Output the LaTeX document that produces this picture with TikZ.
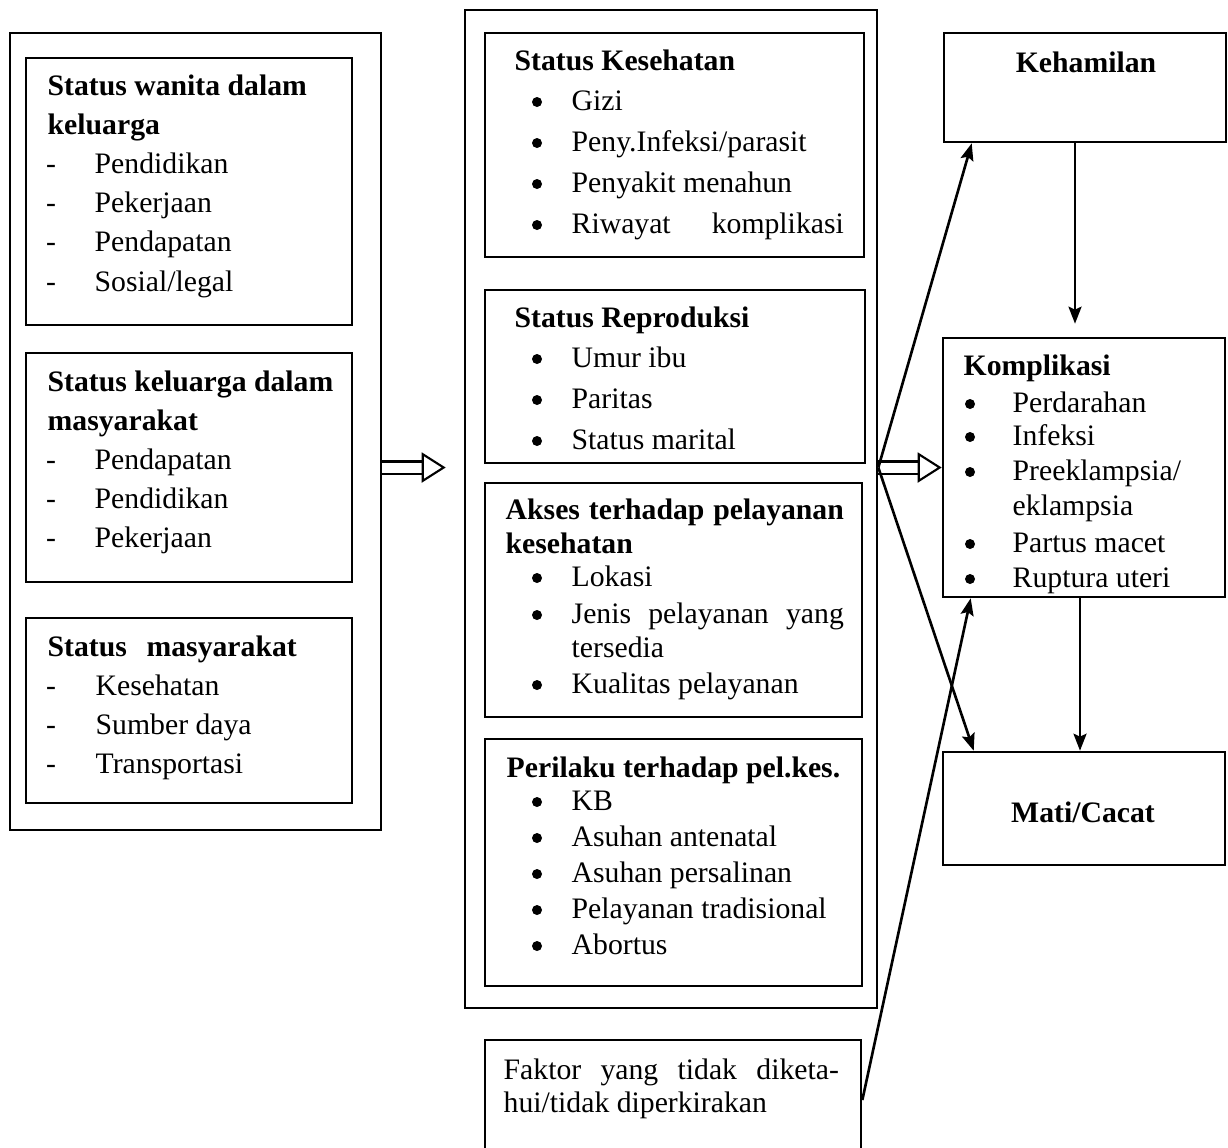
\documentclass[tikz,border=0pt]{standalone}
\usepackage{fontspec}
\setmainfont{Liberation Serif}
\usetikzlibrary{arrows.meta,fit}

\newcommand\ukuran{\fontsize{8.45}{11}\selectfont}
\tikzset{
  kotak/.style={draw, line width=0.75pt, inner sep=0pt},
  judul/.style={anchor=base west, inner sep=0pt, font=\ukuran\bfseries},
  butir/.style={anchor=base west, inner sep=0pt, font=\ukuran},
  titik/.style={anchor=base, inner sep=0pt, font=\ukuran},
  bulat/.style={circle, fill, inner sep=0pt, minimum size=0.1cm, yshift=0.08cm},
  panah/.style={line width=0.75pt, -{Stealth[length=0.17cm,width=0.13cm,inset=0.03cm]}},
  ganda/.style={double, double distance=0.1cm, line width=0.6pt, -{Triangle[open,length=0.24cm,width=0.3cm]}},
}

\begin{document}
\begin{tikzpicture}[x=0.01cm, y=-0.01cm]
\useasboundingbox (0,0) rectangle (1228,1147);

% kolom kiri
\node[kotak, fit={(10,33) (381,830)}] (kiri) {};
\node[kotak, fit={(26,58) (352,325)}] (wanita) {};
\node[kotak, fit={(26,353) (352,582)}] (keluarga) {};
\node[kotak, fit={(26,618) (352,803)}] (masyarakat) {};

\node[judul] (wanita-j1) at (47,95) {Status wanita dalam};
\node[judul] (wanita-j2) at (47,134) {keluarga};
\foreach \teks [count=\i from 0] in {Pendidikan,Pekerjaan,Pendapatan,Sosial/legal}{
  \node[titik] (wanita-d\i) at (51,173+39.4*\i) {-};
  \node[butir] (wanita-\i) at (94,173+39.4*\i) {\teks};
}

\node[judul] (keluarga-j1) at (47,391) {Status keluarga dalam};
\node[judul] (keluarga-j2) at (47,430) {masyarakat};
\foreach \teks [count=\i from 0] in {Pendapatan,Pendidikan,Pekerjaan}{
  \node[titik] (keluarga-d\i) at (51,469+39.2*\i) {-};
  \node[butir] (keluarga-\i) at (94,469+39.2*\i) {\teks};
}

\node[judul] (masyarakat-j) at (47,656) {\makebox[2.49cm][s]{Status masyarakat}};
\foreach \teks [count=\i from 0] in {Kesehatan,Sumber daya,Transportasi}{
  \node[titik] (masyarakat-d\i) at (51,695+39.2*\i) {-};
  \node[butir] (masyarakat-\i) at (95,695+39.2*\i) {\teks};
}

% kolom tengah
\node[kotak, fit={(465,10) (877,1008)}] (tengah) {};
\node[kotak, fit={(485,33) (864,257)}] (sehat) {};
\node[kotak, fit={(485,290) (865,463)}] (repro) {};
\node[kotak, fit={(485,483) (862,717)}] (akses) {};
\node[kotak, fit={(485,739) (862,986)}] (perilaku) {};
\node[kotak, fit={(485,1040) (861,1160)}] (lain) {};

\node[judul] (sehat-j) at (514,70) {Status Kesehatan};
\foreach \teks [count=\i from 0] in {Gizi,Peny.Infeksi/parasit,Penyakit menahun,{\makebox[2.72cm][s]{Riwayat komplikasi}}}{
  \node[bulat] (sehat-d\i) at (537,110+41*\i) {};
  \node[butir] (sehat-\i) at (571,110+41*\i) {\teks};
}

\node[judul] (repro-j) at (514,327) {Status Reproduksi};
\foreach \teks [count=\i from 0] in {Umur ibu,Paritas,Status marital}{
  \node[bulat] (repro-d\i) at (537,367+41*\i) {};
  \node[butir] (repro-\i) at (571,367+41*\i) {\teks};
}

\node[judul] (akses-j1) at (505,519) {\makebox[3.38cm][s]{Akses terhadap pelayanan}};
\node[judul] (akses-j2) at (505,553) {kesehatan};
\node[bulat] (akses-d0) at (537,586) {};
\node[butir] (akses-0) at (571,586) {Lokasi};
\node[bulat] (akses-d1) at (537,623) {};
\node[butir] (akses-1) at (571,623) {\makebox[2.72cm][s]{Jenis pelayanan yang}};
\node[butir] (akses-1b) at (571,657) {tersedia};
\node[bulat] (akses-d2) at (537,693) {};
\node[butir] (akses-2) at (571,693) {Kualitas pelayanan};

\node[judul] (perilaku-j) at (506,777) {Perilaku terhadap pel.kes.};
\foreach \teks [count=\i from 0] in {KB,Asuhan antenatal,Asuhan persalinan,Pelayanan tradisional,Abortus}{
  \node[bulat] (perilaku-d\i) at (537,810+36*\i) {};
  \node[butir] (perilaku-\i) at (571,810+36*\i) {\teks};
}

\node[butir] (lain-1) at (503,1079) {\makebox[3.35cm][s]{Faktor yang tidak diketa-}};
\node[butir] (lain-2) at (503,1112) {hui/tidak diperkirakan};

% kolom kanan
\node[kotak, fit={(944,33) (1226,142)}] (hamil) {};
\node[judul, anchor=base] (hamil-j) at (1086,72) {Kehamilan};

\node[kotak, fit={(943,338) (1225,597)}] (komplikasi) {};
\node[judul] (komplikasi-j) at (963,375) {Komplikasi};
\foreach \teks/\y in {Perdarahan/412,Infeksi/445,Preeklampsia\slash/480,Partus macet/552,Ruptura uteri/587}{
  \node[bulat] (komplikasi-d\y) at (970,\y) {};
  \node[butir] (komplikasi-\y) at (1012,\y) {\teks};
}
\node[butir] (komplikasi-515) at (1012,515) {eklampsia};

\node[kotak, fit={(943,752) (1225,865)}] (mati) {};
\node[judul, anchor=base] (mati-j) at (1083,822) {Mati/Cacat};

% panah
\draw[ganda, shorten >=0.18cm] (kiri.east |- komplikasi.west) -- (tengah.west |- komplikasi.west);
\draw[ganda] (tengah.east |- komplikasi.west) -- (komplikasi.west);
\draw[panah] (tengah.east |- komplikasi.west) -- ([xshift=0.29cm]hamil.south west);
\draw[panah] (tengah.east |- komplikasi.west) -- ([xshift=0.32cm]mati.north west);
\draw[panah] (lain.east) -- ([xshift=0.29cm]komplikasi.south west);
\draw[panah, shorten >=0.13cm] ([xshift=-0.1cm]hamil.south) -- ([xshift=-0.1cm]hamil.south |- komplikasi.north);
\draw[panah] ([xshift=-0.04cm]komplikasi.south) -- ([xshift=-0.04cm]komplikasi.south |- mati.north);
\end{tikzpicture}
\end{document}
